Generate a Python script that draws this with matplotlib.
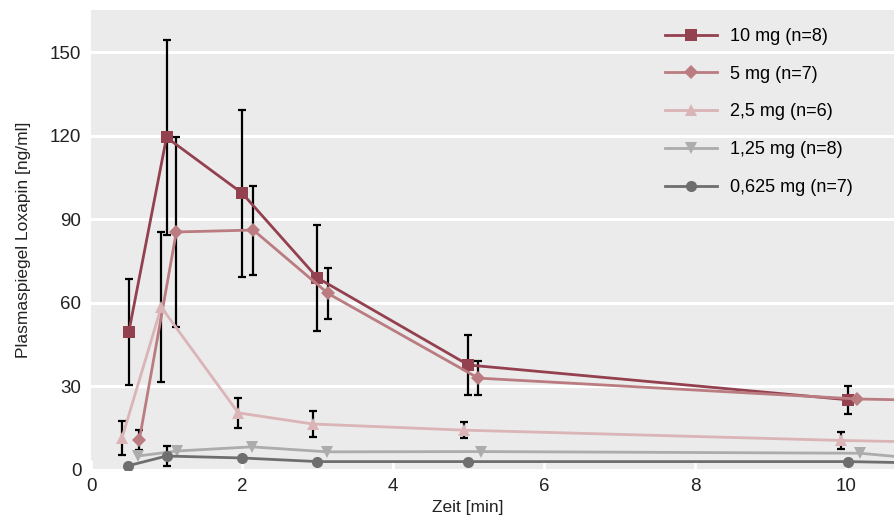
import matplotlib.pyplot as plt
import numpy as np

# Plasmaspiegel Loxapin nach inhalativer Gabe
labels = ['10 mg (n=8)', '5 mg (n=7)', '2,5 mg (n=6)', '1,25 mg (n=8)', '0,625 mg (n=7)']
colors = ['#93404f', '#ba7c80', '#dab4b6', '#acacac', '#6e6e6e']
markers = ['s', 'D', '^', 'v', 'o']

t_10 = [0.5, 1.0, 2.0, 3.0, 5.0, 10.03]
y_10 = [49.5, 119.5, 99.5, 69.0, 37.7, 25.2]
e_10 = [19, 35, 30, 19, 10.8, 5]

t_5 = [0.64, 1.13, 2.15, 3.14, 5.13, 10.15, 12.0]
y_5 = [10.8, 85.5, 86.2, 63.4, 33.0, 25.5, 24.5]
e_5 = [3.6, 34, 16, 9, 6, 0, 0]

t_2 = [0.41, 0.93, 1.95, 2.94, 4.94, 9.93, 12.0]
y_2 = [11.5, 58.5, 20.5, 16.5, 14.3, 10.6, 9.5]
e_2 = [6, 27, 5.4, 4.6, 3, 3, 0]

t_1 = [0.62, 1.14, 2.13, 3.13, 5.17, 10.19, 12.0]
y_1 = [5.0, 6.8, 8.3, 6.5, 6.6, 6.0, 1.5]

t_06 = [0.49, 1.0, 2.0, 3.0, 5.0, 10.03, 12.0]
y_06 = [1.5, 5.0, 4.3, 3.0, 3.0, 3.0, 2.0]
e_06 = [0, 3.6, 0, 0, 0, 0, 0]

series = [(t_10, y_10, e_10), (t_5, y_5, e_5), (t_2, y_2, e_2),
          (t_1, y_1, None), (t_06, y_06, e_06)]

plt.rcParams['font.family'] = ['Liberation Sans', 'DejaVu Sans']

fig = plt.figure(figsize=(8.95, 5.21), dpi=100)
ax = fig.add_axes([0.1017, 0.098, 0.8983, 0.883])
ax.set_facecolor('#ebebeb')

# error bars first, drawn in black behind the markers
for (t, y, e) in series:
    if e is None:
        continue
    t = np.array(t); y = np.array(y); e = np.array(e)
    m = e > 0
    ax.errorbar(t[m], y[m], yerr=e[m], fmt='none', ecolor='black',
                elinewidth=1.6, capsize=3, capthick=1.6, zorder=3)

for (t, y, e), lab, c, mk in zip(series, labels, colors, markers):
    ax.plot(t, y, color=c, lw=2, marker=mk, ms=8 if mk != 'D' else 7,
            markeredgewidth=0, label=lab, zorder=4)

ax.set_xlim(0, 10.65)
ax.set_ylim(0, 165.3)
ax.set_yticks([0, 30, 60, 90, 120, 150])
ax.set_xticks([0, 2, 4, 6, 8, 10])
ax.grid(axis='y', color='white', lw=2.2)
ax.set_axisbelow(True)
for s in ax.spines.values():
    s.set_visible(False)
ax.tick_params(axis='y', length=0, labelsize=13.5, pad=7, labelcolor='#222222')
ax.tick_params(axis='x', direction='in', length=7, width=2, color='white',
               labelsize=13.5, pad=6, labelcolor='#222222')

ax.set_ylabel('Plasmaspiegel Loxapin [ng/ml]', fontsize=12.5, color='#222222')
ax.yaxis.set_label_coords(-0.075, 0.5)
ax.set_xlabel('Zeit [min]', fontsize=12.5, color='#222222')
ax.xaxis.set_label_coords(0.468, -0.065)

ax.legend(loc='upper right', bbox_to_anchor=(0.97, 1.0), frameon=False,
          fontsize=13, handlelength=2.9, labelspacing=1.15,
          borderaxespad=0.6, handletextpad=0.7)

fig.savefig('out.png', dpi=100)
